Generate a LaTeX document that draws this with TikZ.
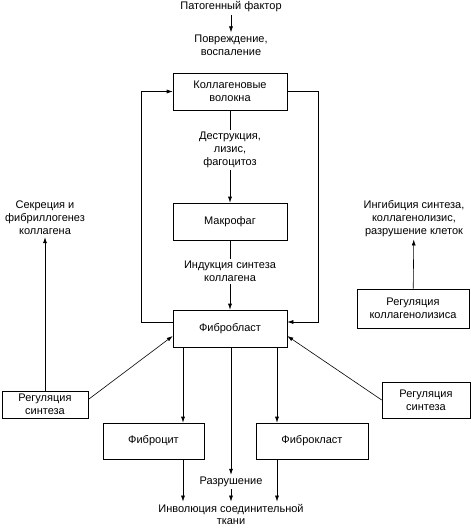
\documentclass[tikz,border=0pt]{standalone}
\usepackage{fontspec}
\setmainfont{Liberation Sans}
\usetikzlibrary{arrows.meta,positioning}

\begin{document}
\begin{tikzpicture}
	[x=1pt, y=-1pt, >={Latex[length=6pt,width=4pt]}, align=center,
	 font=\fontsize{11}{13}\selectfont, line width=0.6pt,
	 box/.style={draw, minimum width=114pt, minimum height=37pt, inner sep=1pt},
	 lbl/.style={inner sep=2pt}]
	\useasboundingbox (0,0) rectangle (471,528);
	% main column
	\node[lbl] (pf) at (231,7) {Патогенный фактор};
	\node[lbl] (pov) at (231,45) {Повреждение,\\воспаление};
	\node[box] (kv) at (230,91.5) {Коллагеновые\\волокна};
	\node[lbl] (des) at (230,150) {Деструкция,\\лизис,\\фагоцитоз};
	\node[box] (mf) at (230,221.5) {Макрофаг};
	\node[lbl] (ind) at (230,271.5) {Индукция синтеза\\коллагена};
	\node[box] (fb) at (230,328.5) {Фибробласт};
	\node[box, minimum width=101pt, minimum height=36pt] (fc) at (153.5,441) {Фиброцит};
	\node[box, minimum width=112pt, minimum height=36pt] (fk) at (312,441) {Фиброкласт};
	\node[lbl] (raz) at (231,482) {Разрушение};
	\node[lbl, font=\fontsize{11}{12}\selectfont] (inv) at (231,514) {Инволюция соединительной\\ткани};
	% left side
	\node[box, minimum width=86pt, minimum height=27pt] (rsl) at (45,404.5) {Регуляция\\синтеза};
	\node[lbl] (sek) at (45,218) {Секреция и\\фибриллогенез\\коллагена};
	% right side
	\node[box, minimum width=112pt, minimum height=39pt] (rk) at (413,308.5) {Регуляция\\коллагенолизиса};
	\node[lbl] (ing) at (414,219) {Ингибиция синтеза,\\коллагенолизис,\\разрушение клеток};
	\node[box, minimum width=88pt, minimum height=36pt] (rsr) at (426,400) {Регуляция\\синтеза};

	\draw[->] (pf) -- (pov);
	\draw (kv) -- (des);
	\draw[->] (des) -- (mf);
	\draw (mf) -- (ind);
	\draw[->] (ind) -- (fb);
	% feedback loop
	\draw[->] ([yshift=6.5pt]fb.west) -- ++(-31,0) |- (kv.west);
	\draw[->] (kv.east) -- ++(31,0) |- ([yshift=6.5pt]fb.east);
	% down from fibroblast
	\draw[->] ([xshift=-47pt]fb.south) -- ([xshift=-47pt]fb.south |- fc.north);
	\draw[->] ([xshift=47pt]fb.south) -- ([xshift=47pt]fb.south |- fk.north);
	\draw[->] ([xshift=1pt]fb.south) -- (raz);
	\draw[->] (raz) -- (inv);
	\draw[->] ([xshift=-47pt]fb.south |- fc.south) -- ([xshift=-47pt]fb.south |- inv.north);
	\draw[->] ([xshift=47pt]fb.south |- fk.south) -- ([xshift=47pt]fb.south |- inv.north);
	% regulation
	\draw[->] (rsl) -- (sek);
	\draw[->] ([yshift=5pt]rsl.east) -- ([yshift=-7.5pt]fb.west);
	\draw[->] (rk) -- (ing);
	\draw[->] (rsr.west) -- ([yshift=-7.5pt]fb.east);
\end{tikzpicture}
\end{document}
